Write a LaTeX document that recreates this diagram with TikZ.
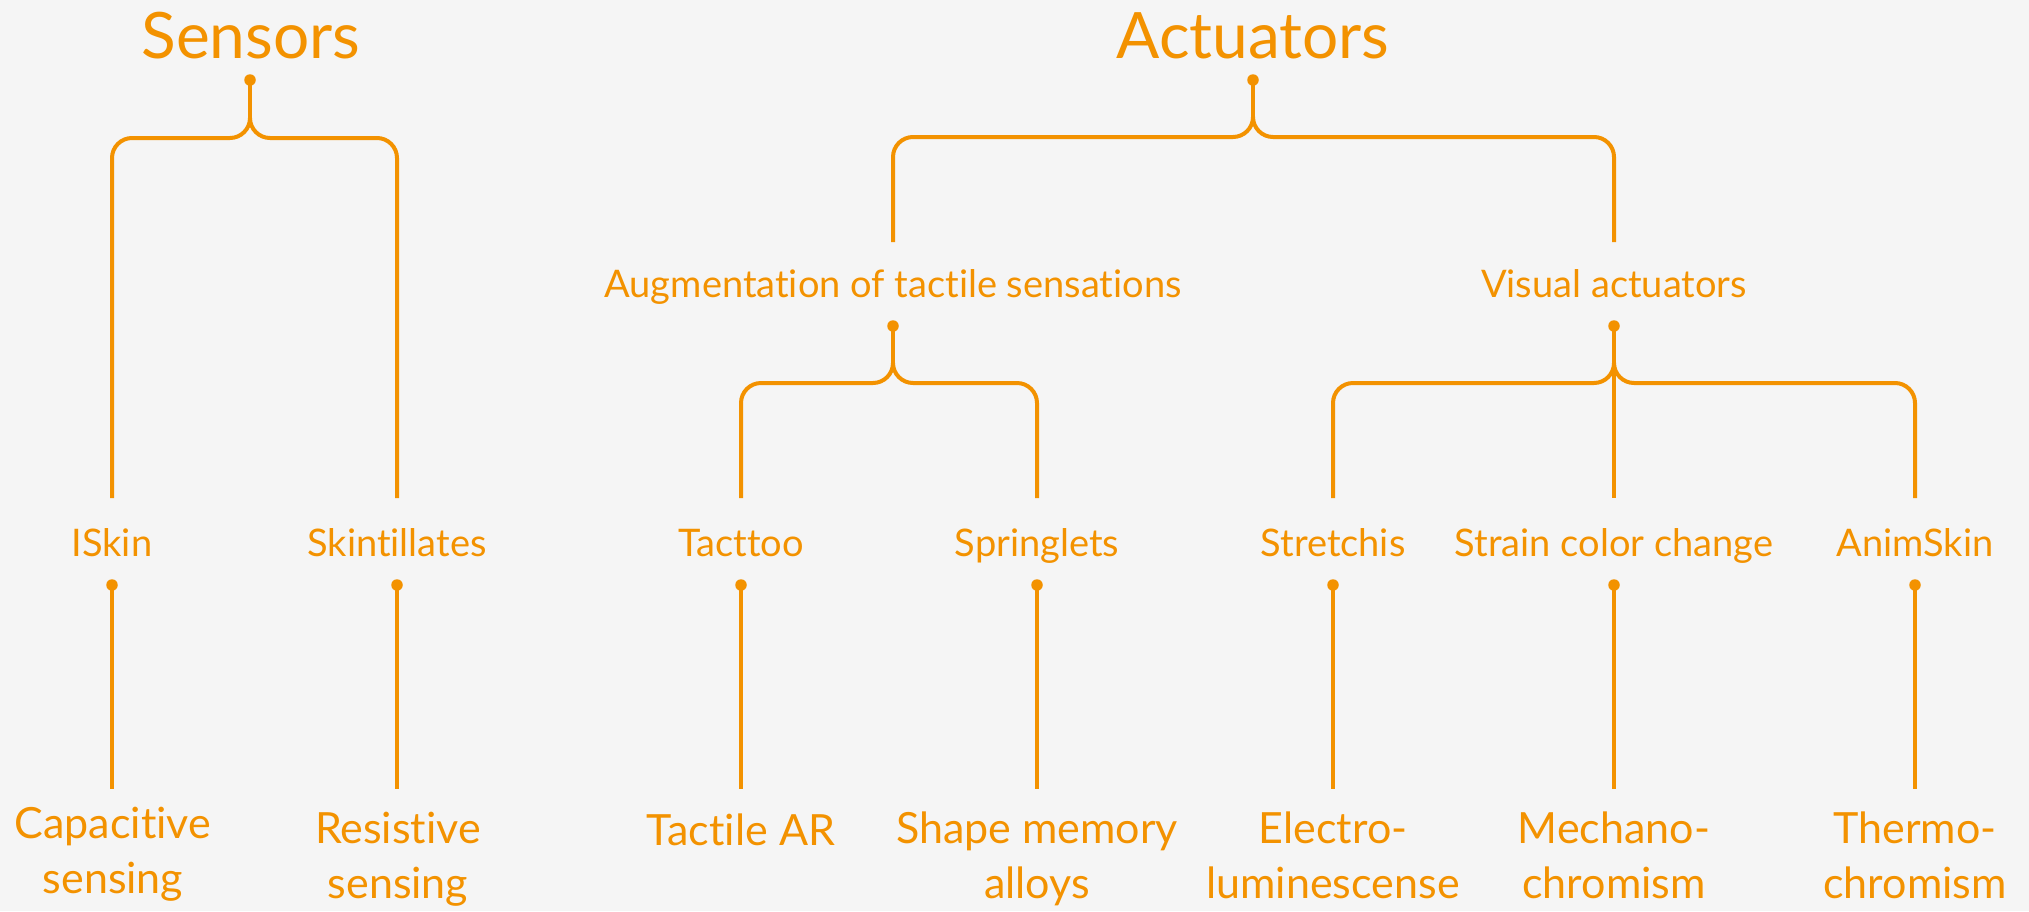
\documentclass[tikz,border=0pt]{standalone}
\usepackage{fontspec}
\setmainfont{Lato}[Ligatures={NoCommon}]
\definecolor{org}{HTML}{F39200}
\definecolor{bgc}{HTML}{F5F5F5}
\newcommand\mybrace[6]{% L, c, R, doty, h, bottom
  \draw[link] (#1,#6) -- (#1,#5+20) .. controls (#1,#5+9) and (#1+9,#5) .. (#1+20,#5)
    -- (#2-20,#5) .. controls (#2-9,#5) and (#2,#5-9) .. (#2,#5-20)
    .. controls (#2,#5-9) and (#2+9,#5) .. (#2+20,#5)
    -- (#3-20,#5) .. controls (#3-9,#5) and (#3,#5+9) .. (#3,#5+20) -- (#3,#6);
  \draw[link] (#2,#4) -- (#2,#5-20);
}
\begin{document}
\begin{tikzpicture}[x=1pt,y=-1pt,
  title/.style={font=\fontsize{64}{64}\selectfont, text=org, inner sep=0, anchor=base},
  mid/.style={font=\fontsize{38}{38}\selectfont, text=org, inner sep=0, anchor=base},
  leaf/.style={font=\fontsize{43}{55}\selectfont, text=org, inner sep=0, anchor=base, align=center},
  link/.style={draw=org, line width=4pt},
  dotc/.style={fill=org, circle, inner sep=0, minimum size=11.5pt}]
\fill[bgc] (0,0) rectangle (2029,911);
\useasboundingbox (0,0) rectangle (2029,911);

% titles
\node[title] (sensors) at (251,58) {Sensors};
\node[title] (actuators) at (1253,58) {Actuators};

% middle labels
\node[mid] (aug) at (893,297) {Augmentation of tactile sensations};
\node[mid] (vis) at (1614,297) {Visual actuators};

\node[mid] (iskin) at (112,556) {ISkin};
\node[mid] (skint) at (397,556) {Skintillates};
\node[mid] (tact) at (741,556) {Tacttoo};
\node[mid] (spring) at (1037,556) {Springlets};
\node[mid] (stretch) at (1333,556) {Stretchis};
\node[mid] (strain) at (1614,556) {Strain color change};
\node[mid] (anim) at (1915,556) {AnimSkin};

% leaves (anchor base = last line)
\node[leaf] (cap) at (113,893) {Capacitive\\sensing};
\node[leaf] (res) at (398,898) {Resistive\\sensing};
\node[leaf] (tar) at (741,845) {Tactile AR};
\node[leaf] (sma) at (1037,898) {Shape memory\\alloys};
\node[leaf] (el) at (1333,898) {Electro-\\luminescense};
\node[leaf] (mech) at (1614,898) {Mechano-\\chromism};
\node[leaf] (therm) at (1915,898) {Thermo-\\chromism};

% braces
\mybrace{112}{250}{397}{80}{138}{498}
\mybrace{893}{1253}{1614}{80}{137}{242}
\mybrace{741}{893}{1037}{326}{383}{498}
\mybrace{1333}{1614}{1915}{326}{383}{498}
\draw[link] (1614,363) -- (1614,498);
\node[dotc] (d0) at (250,80) {};
\node[dotc] (d1) at (1253,80) {};
\node[dotc] (d2) at (893,326) {};
\node[dotc] (d3) at (1614,326) {};

% leaf connectors
\foreach \x/\n in {112/a,397/b,741/c,1037/d,1333/e,1614/f,1915/g}{
  \coordinate (e\n) at (\x,789);
  \node[dotc] (l\n) at (\x,585) {};
  \draw[link] (l\n.center) -- (e\n);
}
\end{tikzpicture}
\end{document}
